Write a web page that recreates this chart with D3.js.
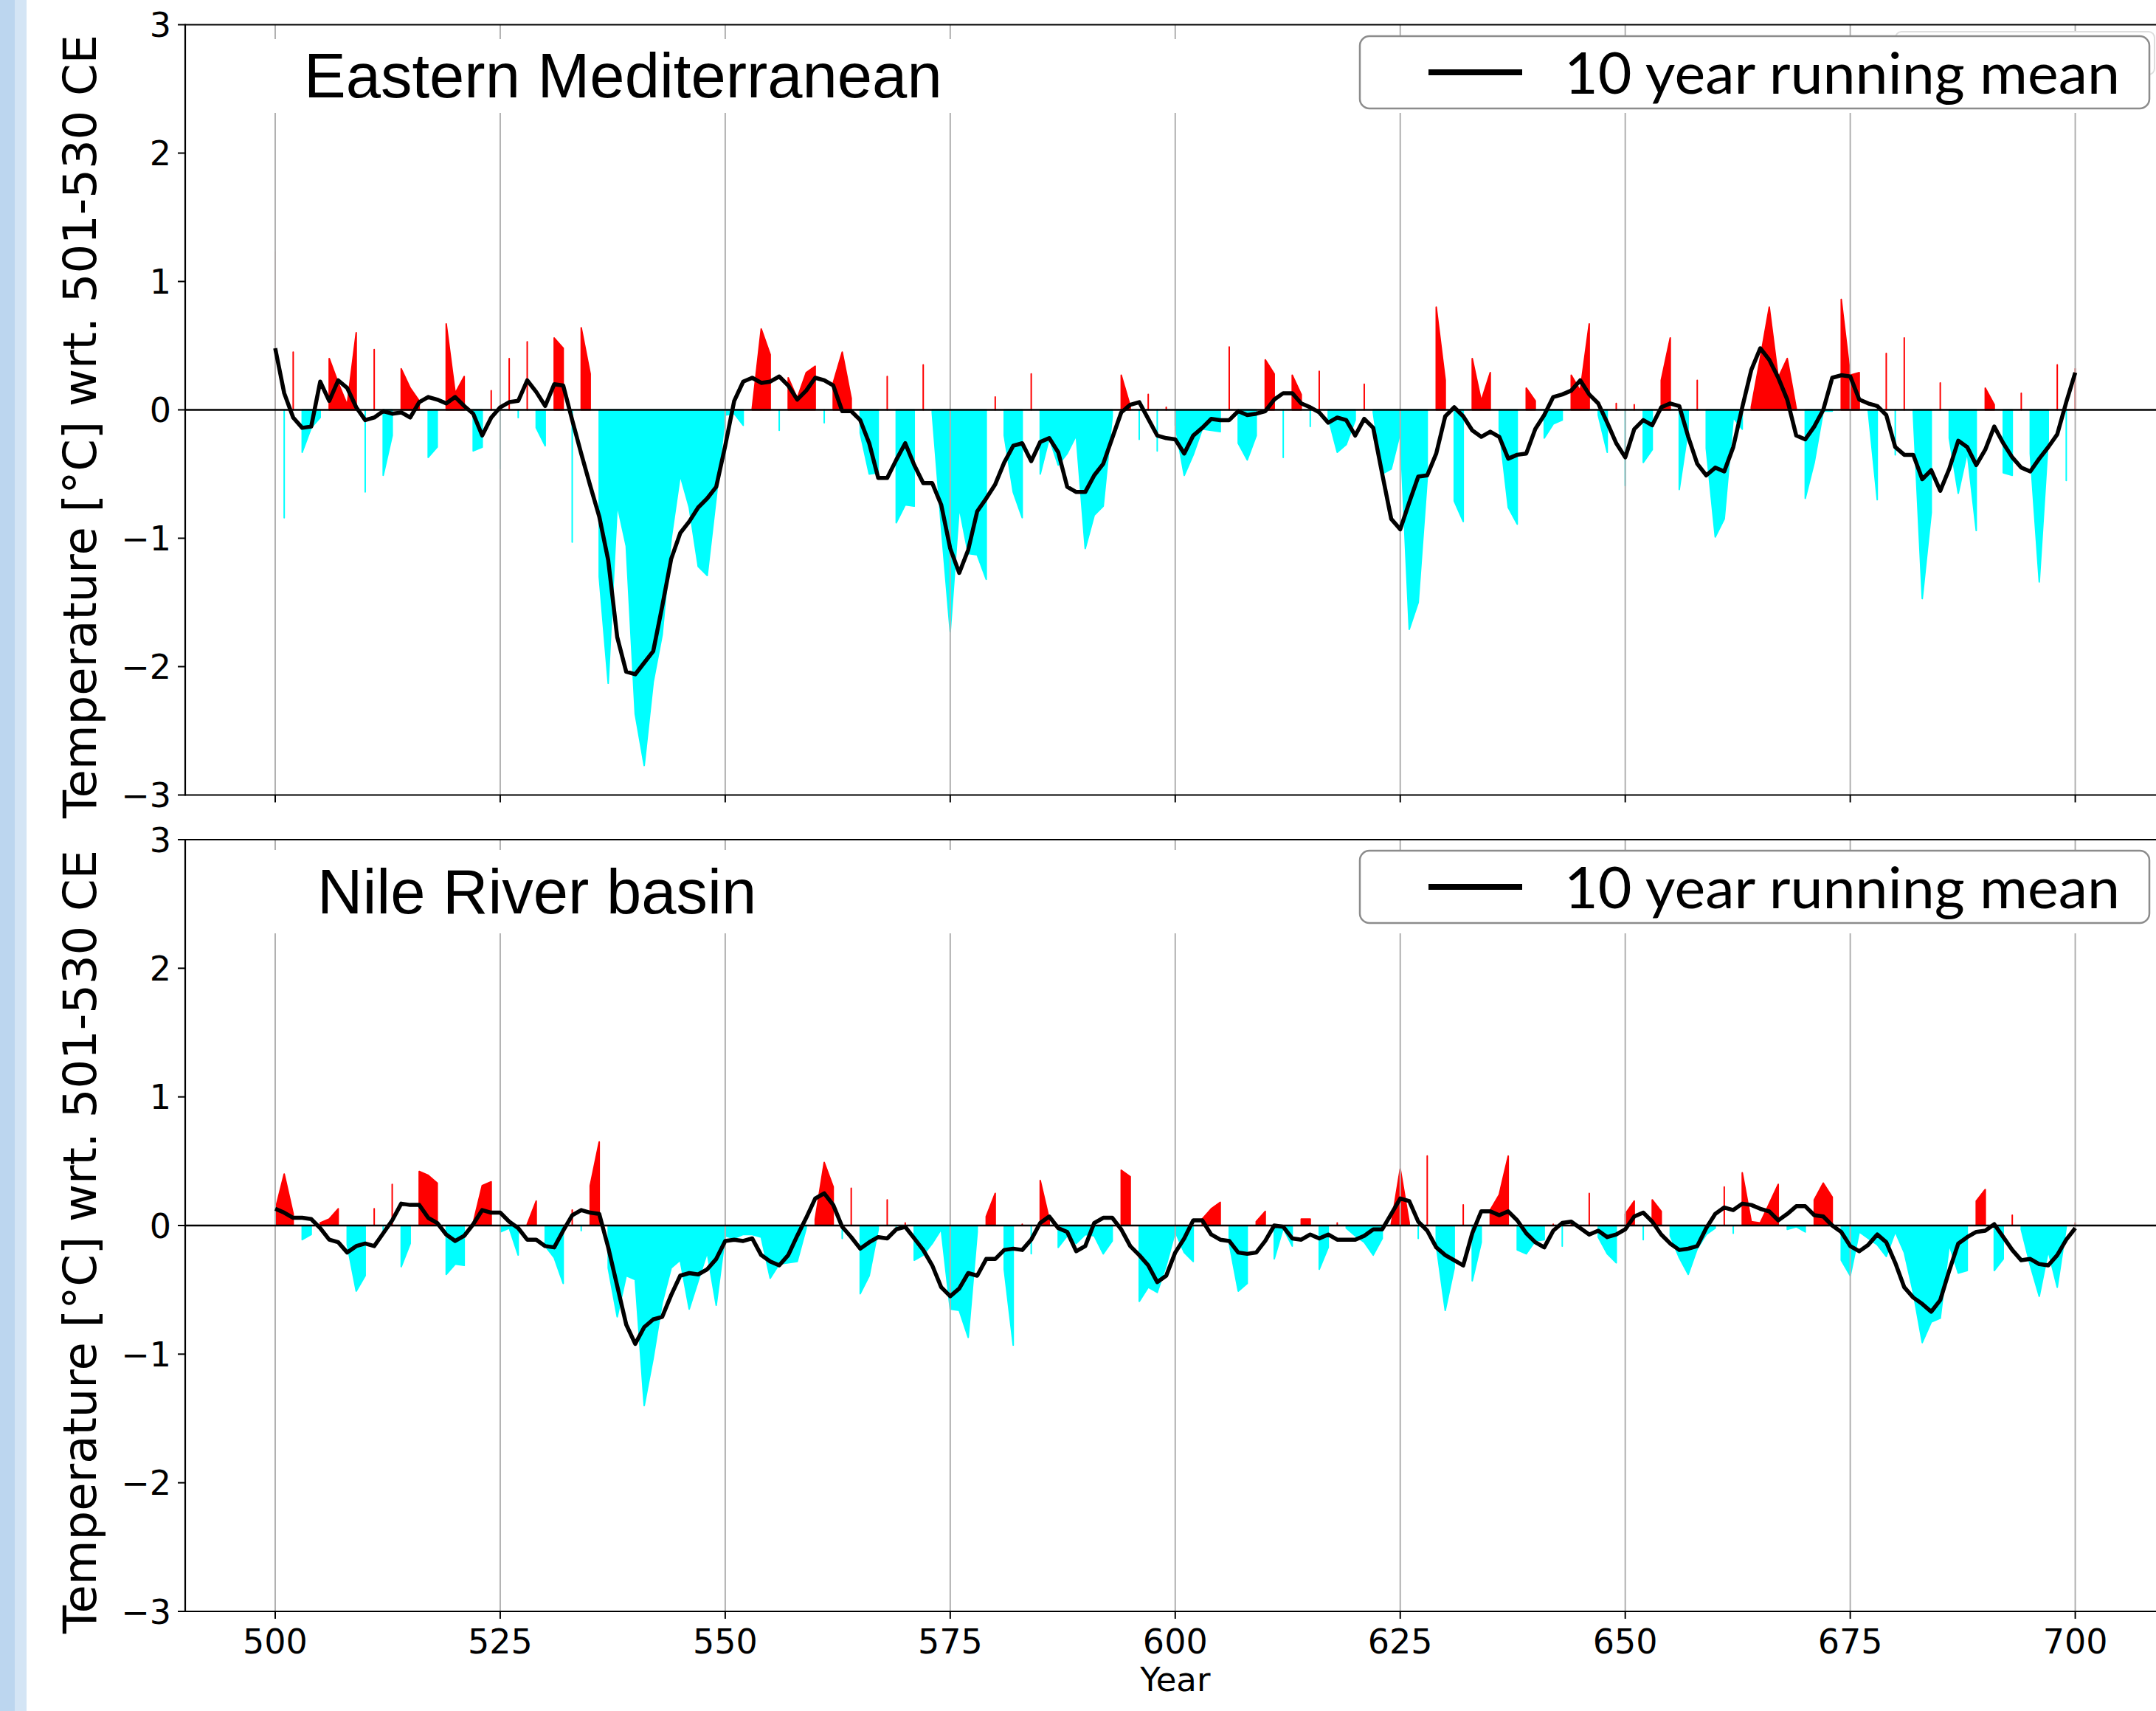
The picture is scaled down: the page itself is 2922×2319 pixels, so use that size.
<!DOCTYPE html>
<html>
<head>
<meta charset="utf-8">
<script src="https://cdn.jsdelivr.net/npm/d3@7"></script>
<style>
  body { margin: 0; background: #fff; }
  svg { display: block; }
</style>
</head>
<body>
<div id="chart"></div>
<script>
// years shown on the x axis
const years = d3.range(500, 701);
const xTicks = [500, 525, 550, 575, 600, 625, 650, 675, 700];
const yTicks = [-3, -2, -1, 0, 1, 2, 3];
const yTickLabels = ["\u22123", "\u22122", "\u22121", "0", "1", "2", "3"];

// Eastern Mediterranean, annual anomaly (one value per year 500..700)
const emAnnual = [
  1.23, -0.84, 0.45, -0.33, -0.14, -0.06, 0.40, 0.21, 0.04, 0.60,
  -0.64, 0.47, -0.51, -0.20, 0.32, 0.17, 0.07, -0.37, -0.29, 0.67,
  0.13, 0.26, -0.32, -0.29, 0.15, -0.46, 0.40, -0.06, 0.53, -0.14,
  -0.28, 0.56, 0.48, -1.03, 0.64, 0.28, -1.30, -2.13, -0.74, -1.06,
  -2.37, -2.77, -2.12, -1.75, -1.00, -0.51, -0.76, -1.22, -1.29, -0.68,
  -0.04, -0.03, -0.12, 0.01, 0.63, 0.43, -0.16, 0.25, 0.09, 0.29,
  0.34, -0.10, 0.21, 0.45, 0.09, -0.18, -0.50, -0.49, 0.26, -0.88,
  -0.74, -0.75, 0.35, -0.02, -0.90, -1.73, -0.76, -1.12, -1.13, -1.32,
  0.10, -0.20, -0.64, -0.84, 0.28, -0.50, -0.22, -0.43, -0.34, -0.20,
  -1.08, -0.82, -0.75, -0.05, 0.27, 0.03, -0.23, 0.12, -0.32, 0.02,
  -0.12, -0.51, -0.35, -0.15, -0.16, -0.17, 0.49, -0.26, -0.39, -0.20,
  0.39, 0.28, -0.37, 0.27, 0.12, -0.13, 0.30, -0.06, -0.33, -0.27,
  -0.08, 0.20, -0.02, -0.50, -0.46, -0.18, -1.71, -1.50, -0.53, 0.80,
  0.23, -0.71, -0.87, 0.40, 0.07, 0.29, -0.15, -0.76, -0.89, 0.17,
  0.07, -0.22, -0.11, -0.08, 0.27, 0.15, 0.67, -0.04, -0.33, 0.05,
  -0.59, 0.04, -0.41, -0.31, 0.23, 0.56, -0.62, -0.15, 0.23, -0.30,
  -0.99, -0.85, -0.06, -0.15, 0.02, 0.40, 0.80, 0.25, 0.40, 0.01,
  -0.69, -0.41, -0.01, -0.01, 0.86, 0.27, 0.29, -0.01, -0.70, 0.44,
  -0.35, 0.56, -0.02, -1.47, -0.80, 0.21, -0.22, -0.65, -0.33, -0.94,
  0.17, 0.04, -0.49, -0.51, 0.13, -0.34, -1.34, -0.23, 0.35, -0.55,
  0.32
];

// Eastern Mediterranean, 10 year running mean
const emMean = [
  0.48, 0.13, -0.06, -0.14, -0.13, 0.22, 0.07, 0.23, 0.17, 0.02,
  -0.08, -0.06, -0.01, -0.03, -0.02, -0.06, 0.06, 0.10, 0.08, 0.05,
  0.10, 0.03, -0.03, -0.20, -0.06, 0.02, 0.06, 0.07, 0.23, 0.14,
  0.03, 0.20, 0.19, -0.08, -0.34, -0.59, -0.83, -1.17, -1.77, -2.04,
  -2.06, -1.97, -1.88, -1.53, -1.16, -0.96, -0.87, -0.76, -0.69, -0.60,
  -0.28, 0.07, 0.22, 0.25, 0.21, 0.22, 0.26, 0.19, 0.08, 0.15,
  0.25, 0.23, 0.19, -0.01, -0.01, -0.08, -0.26, -0.53, -0.53, -0.39,
  -0.26, -0.43, -0.57, -0.57, -0.74, -1.08, -1.27, -1.09, -0.79, -0.69,
  -0.58, -0.41, -0.28, -0.26, -0.40, -0.25, -0.22, -0.33, -0.60, -0.64,
  -0.64, -0.51, -0.42, -0.22, -0.02, 0.04, 0.06, -0.07, -0.20, -0.22,
  -0.23, -0.34, -0.20, -0.14, -0.07, -0.08, -0.08, -0.01, -0.04, -0.03,
  -0.01, 0.08, 0.13, 0.13, 0.05, 0.02, -0.02, -0.10, -0.06, -0.08,
  -0.20, -0.07, -0.14, -0.50, -0.85, -0.93, -0.72, -0.52, -0.51, -0.34,
  -0.05, 0.02, -0.05, -0.16, -0.21, -0.17, -0.21, -0.38, -0.35, -0.34,
  -0.15, -0.04, 0.10, 0.12, 0.15, 0.23, 0.12, 0.05, -0.10, -0.26,
  -0.37, -0.15, -0.08, -0.12, 0.02, 0.05, 0.03, -0.21, -0.42, -0.51,
  -0.45, -0.48, -0.29, 0.02, 0.31, 0.48, 0.39, 0.25, 0.08, -0.20,
  -0.23, -0.13, 0.00, 0.25, 0.27, 0.26, 0.08, 0.05, 0.03, -0.04,
  -0.29, -0.35, -0.35, -0.54, -0.47, -0.63, -0.46, -0.24, -0.29, -0.43,
  -0.31, -0.13, -0.26, -0.37, -0.45, -0.48, -0.38, -0.29, -0.19, 0.06,
  0.29
];

// Nile River basin, annual anomaly
const nileAnnual = [
  0.12, 0.40, 0.09, -0.11, -0.07, 0.02, 0.05, 0.13, -0.15, -0.51,
  -0.39, 0.13, -0.04, 0.32, -0.32, -0.14, 0.42, 0.39, 0.33, -0.38,
  -0.30, -0.31, 0.02, 0.31, 0.34, -0.05, -0.02, -0.23, 0.01, 0.19,
  -0.16, -0.25, -0.45, 0.12, -0.04, 0.31, 0.65, -0.33, -0.71, -0.39,
  -0.42, -1.40, -1.03, -0.60, -0.33, -0.27, -0.65, -0.43, -0.21, -0.62,
  -0.08, -0.10, -0.07, -0.07, -0.09, -0.41, -0.30, -0.29, -0.28, -0.02,
  0.05, 0.49, 0.30, -0.10, 0.29, -0.53, -0.39, -0.03, 0.20, -0.03,
  0.02, -0.27, -0.23, -0.14, -0.03, -0.65, -0.66, -0.87, -0.05, 0.07,
  0.25, -0.34, -0.93, 0.01, -0.22, 0.35, 0.05, -0.17, -0.08, -0.14,
  -0.07, -0.08, -0.22, -0.12, 0.43, 0.38, -0.59, -0.48, -0.52, -0.31,
  -0.05, -0.21, -0.28, 0.05, 0.13, 0.18, -0.14, -0.51, -0.45, 0.03,
  0.11, -0.26, -0.02, -0.16, 0.05, 0.05, -0.34, -0.17, 0.02, -0.02,
  -0.08, -0.13, -0.23, -0.10, 0.01, 0.44, 0.02, -0.10, 0.54, -0.15,
  -0.66, -0.33, 0.16, -0.43, -0.13, 0.12, 0.24, 0.54, -0.19, -0.22,
  -0.12, -0.11, 0.01, -0.16, 0.01, -0.01, 0.25, -0.09, -0.22, -0.29,
  0.09, 0.19, -0.11, 0.20, 0.11, -0.08, -0.25, -0.38, -0.18, -0.07,
  -0.02, 0.30, -0.06, 0.41, 0.03, 0.02, 0.17, 0.32, -0.03, -0.01,
  -0.05, 0.20, 0.33, 0.22, -0.27, -0.39, -0.05, -0.10, -0.15, -0.24,
  -0.05, -0.21, -0.52, -0.91, -0.75, -0.72, -0.15, -0.37, -0.35, 0.19,
  0.28, -0.35, -0.26, 0.08, -0.03, -0.31, -0.55, -0.20, -0.48, -0.01,
  0.02
];

// Nile River basin, 10 year running mean
const nileMean = [
  0.13, 0.10, 0.06, 0.06, 0.05, -0.02, -0.11, -0.13, -0.21, -0.16,
  -0.14, -0.16, -0.06, 0.04, 0.17, 0.16, 0.16, 0.06, 0.02, -0.07,
  -0.12, -0.08, 0.01, 0.12, 0.10, 0.10, 0.03, -0.02, -0.11, -0.11,
  -0.16, -0.17, -0.04, 0.08, 0.12, 0.10, 0.09, -0.17, -0.47, -0.77,
  -0.92, -0.79, -0.73, -0.71, -0.54, -0.39, -0.37, -0.38, -0.34, -0.26,
  -0.12, -0.11, -0.12, -0.10, -0.23, -0.28, -0.31, -0.23, -0.08, 0.06,
  0.21, 0.25, 0.16, -0.01, -0.09, -0.18, -0.13, -0.09, -0.10, -0.03,
  -0.01, -0.10, -0.19, -0.31, -0.48, -0.55, -0.49, -0.37, -0.39, -0.26,
  -0.26, -0.19, -0.18, -0.19, -0.11, 0.02, 0.07, -0.02, -0.05, -0.20,
  -0.16, 0.02, 0.06, 0.06, -0.03, -0.16, -0.23, -0.31, -0.44, -0.39,
  -0.21, -0.10, 0.04, 0.04, -0.07, -0.11, -0.12, -0.21, -0.22, -0.21,
  -0.12, 0.00, -0.01, -0.10, -0.11, -0.07, -0.10, -0.07, -0.11, -0.11,
  -0.11, -0.08, -0.03, -0.03, 0.09, 0.21, 0.19, 0.03, -0.04, -0.17,
  -0.23, -0.27, -0.31, -0.06, 0.11, 0.11, 0.08, 0.11, 0.04, -0.06,
  -0.13, -0.17, -0.04, 0.02, 0.03, -0.02, -0.07, -0.04, -0.09, -0.07,
  -0.03, 0.07, 0.10, 0.03, -0.07, -0.14, -0.19, -0.18, -0.16, -0.02,
  0.09, 0.14, 0.12, 0.17, 0.16, 0.13, 0.11, 0.04, 0.09, 0.15,
  0.15, 0.08, 0.07, 0.00, -0.05, -0.16, -0.20, -0.15, -0.07, -0.13,
  -0.29, -0.48, -0.56, -0.61, -0.67, -0.58, -0.35, -0.14, -0.09, -0.05,
  -0.04, 0.01, -0.09, -0.19, -0.27, -0.26, -0.30, -0.31, -0.23, -0.11,
  -0.02
];

const W = 2922, H = 2319;
const axLeft = 251;

const svg = d3.select("#chart").append("svg")
    .attr("width", W)
    .attr("height", H);

svg.append("rect").attr("width", W).attr("height", H).attr("fill", "#fff");

// slide edge on the left
svg.append("rect").attr("x", 0).attr("y", 0).attr("width", 20).attr("height", H).attr("fill", "#bcd6ef");
svg.append("rect").attr("x", 20).attr("y", 0).attr("width", 16).attr("height", H).attr("fill", "#d4e5f5");

let x = d3.scaleLinear()
    .domain([490, 710])
    .range([axLeft, axLeft + 220 * 12.198]);

// splits a series in runs of consecutive years that pass the test
function runs(vals, test) {
    let out = [], cur = null;
    vals.forEach(function(v, i) {
        if (test(v)) {
            if (!cur) { cur = []; out.push(cur); }
            cur.push(i);
        } else {
            cur = null;
        }
    });
    return out;
}

const panels = [
    { annual: emAnnual, mean: emMean, title: "Eastern Mediterranean",
      top: 33.5, bottom: 1077.5, titleX: 412, titleY: 132,
      band: [53, 153], legendY: 49, labelY: 578, xLabels: false, ghostBox: true },
    { annual: nileAnnual, mean: nileMean, title: "Nile River basin",
      top: 1138, bottom: 2184, titleX: 430, titleY: 1238,
      band: [1152, 1265], legendY: 1153, labelY: 1683, xLabels: true, ghostBox: false }
];

panels.forEach(function(p, k) {
    let y = d3.scaleLinear().domain([-3, 3]).range([p.bottom, p.top]);
    let g = svg.append("g");

    g.append("clipPath").attr("id", "clip" + k)
        .append("rect")
        .attr("x", axLeft).attr("y", p.top)
        .attr("width", W - axLeft).attr("height", p.bottom - p.top);

    let plot = g.append("g").attr("clip-path", `url(#clip${k})`);

    let area = d3.area()
        .x(i => x(years[i]))
        .y0(y(0))
        .y1(i => y(p.annual[i]));

    // warm years in red, cold years in cyan (fill between without interpolation)
    runs(p.annual, v => v > 0).forEach(function(r) {
        plot.append("path").attr("d", area(r))
            .attr("fill", "#ff0000").attr("stroke", "#ff0000")
            .attr("stroke-width", 2).attr("stroke-linejoin", "round");
    });
    runs(p.annual, v => v < 0).forEach(function(r) {
        plot.append("path").attr("d", area(r))
            .attr("fill", "#00ffff").attr("stroke", "#00ffff")
            .attr("stroke-width", 2).attr("stroke-linejoin", "round");
    });

    // vertical grid
    plot.selectAll("line.grid").data(xTicks).enter()
        .append("line")
        .attr("x1", d => x(d)).attr("x2", d => x(d))
        .attr("y1", p.top).attr("y2", p.bottom)
        .attr("stroke", "#b0b0b0").attr("stroke-width", 2);

    // white text box behind the title row
    plot.append("rect")
        .attr("x", axLeft + 1).attr("y", p.band[0])
        .attr("width", W - axLeft).attr("height", p.band[1] - p.band[0])
        .attr("fill", "#fff");

    // zero line
    plot.append("line")
        .attr("x1", axLeft).attr("x2", W)
        .attr("y1", y(0)).attr("y2", y(0))
        .attr("stroke", "#000").attr("stroke-width", 2.4);

    // running mean
    let line = d3.line()
        .x((d, i) => x(years[i]))
        .y(d => y(d));

    plot.append("path")
        .datum(p.mean)
        .attr("d", line)
        .attr("fill", "none")
        .attr("stroke", "#000")
        .attr("stroke-width", 5.5)
        .attr("stroke-linejoin", "round");

    // spines
    g.append("line").attr("x1", axLeft).attr("x2", axLeft).attr("y1", p.top - 1).attr("y2", p.bottom + 1)
        .attr("stroke", "#000").attr("stroke-width", 2.2);
    g.append("line").attr("x1", axLeft).attr("x2", W).attr("y1", p.top).attr("y2", p.top)
        .attr("stroke", "#000").attr("stroke-width", 2.2);
    g.append("line").attr("x1", axLeft).attr("x2", W).attr("y1", p.bottom).attr("y2", p.bottom)
        .attr("stroke", "#000").attr("stroke-width", 2.2);

    // y ticks
    yTicks.forEach(function(t, j) {
        g.append("line")
            .attr("x1", axLeft - 10).attr("x2", axLeft)
            .attr("y1", y(t)).attr("y2", y(t))
            .attr("stroke", "#000").attr("stroke-width", 2);
        g.append("text")
            .attr("x", axLeft - 19).attr("y", y(t))
            .attr("dy", "0.36em")
            .attr("text-anchor", "end")
            .style("font-family", "DejaVu Sans")
            .style("font-size", "46px")
            .text(yTickLabels[j]);
    });

    // x ticks
    xTicks.forEach(function(t) {
        g.append("line")
            .attr("x1", x(t)).attr("x2", x(t))
            .attr("y1", p.bottom).attr("y2", p.bottom + 10)
            .attr("stroke", "#000").attr("stroke-width", 2);
        if (p.xLabels) {
            g.append("text")
                .attr("x", x(t)).attr("y", p.bottom + 57)
                .attr("text-anchor", "middle")
                .style("font-family", "DejaVu Sans")
                .style("font-size", "46px")
                .text(t);
        }
    });

    // y axis label
    g.append("text")
        .attr("transform", `translate(130, ${p.labelY}) rotate(-90)`)
        .attr("text-anchor", "middle")
        .attr("textLength", 1062)
        .attr("lengthAdjust", "spacingAndGlyphs")
        .style("font-family", "DejaVu Sans")
        .style("font-size", "63px")
        .text("Temperature [\u00b0C] wrt. 501-530 CE");

    // panel title
    g.append("text")
        .attr("x", p.titleX).attr("y", p.titleY)
        .style("font-family", "Liberation Sans, Arial, sans-serif")
        .style("font-size", "85px")
        .text(p.title);

    // legend
    if (p.ghostBox) {
        g.append("rect")
            .attr("x", 2569).attr("y", 43)
            .attr("width", 351).attr("height", 58).attr("rx", 8)
            .attr("fill", "#fff").attr("stroke", "#dddddd").attr("stroke-width", 2);
    }
    g.append("rect")
        .attr("x", 1843).attr("y", p.legendY)
        .attr("width", 1070).attr("height", 98).attr("rx", 13)
        .attr("fill", "#fff").attr("stroke", "#8c8c8c").attr("stroke-width", 2.5);
    g.append("line")
        .attr("x1", 1936).attr("x2", 2063)
        .attr("y1", p.legendY + 49).attr("y2", p.legendY + 49)
        .attr("stroke", "#000").attr("stroke-width", 8);
    g.append("text")
        .attr("x", 2120).attr("y", p.legendY + 78)
        .attr("textLength", 753)
        .attr("lengthAdjust", "spacingAndGlyphs")
        .style("font-family", "Lato, sans-serif")
        .style("font-size", "77px")
        .text("10 year running mean");
});

// x axis label
svg.append("text")
    .attr("x", x(600)).attr("y", 2292)
    .attr("text-anchor", "middle")
    .style("font-family", "DejaVu Sans")
    .style("font-size", "45px")
    .text("Year");
</script>
</body>
</html>
